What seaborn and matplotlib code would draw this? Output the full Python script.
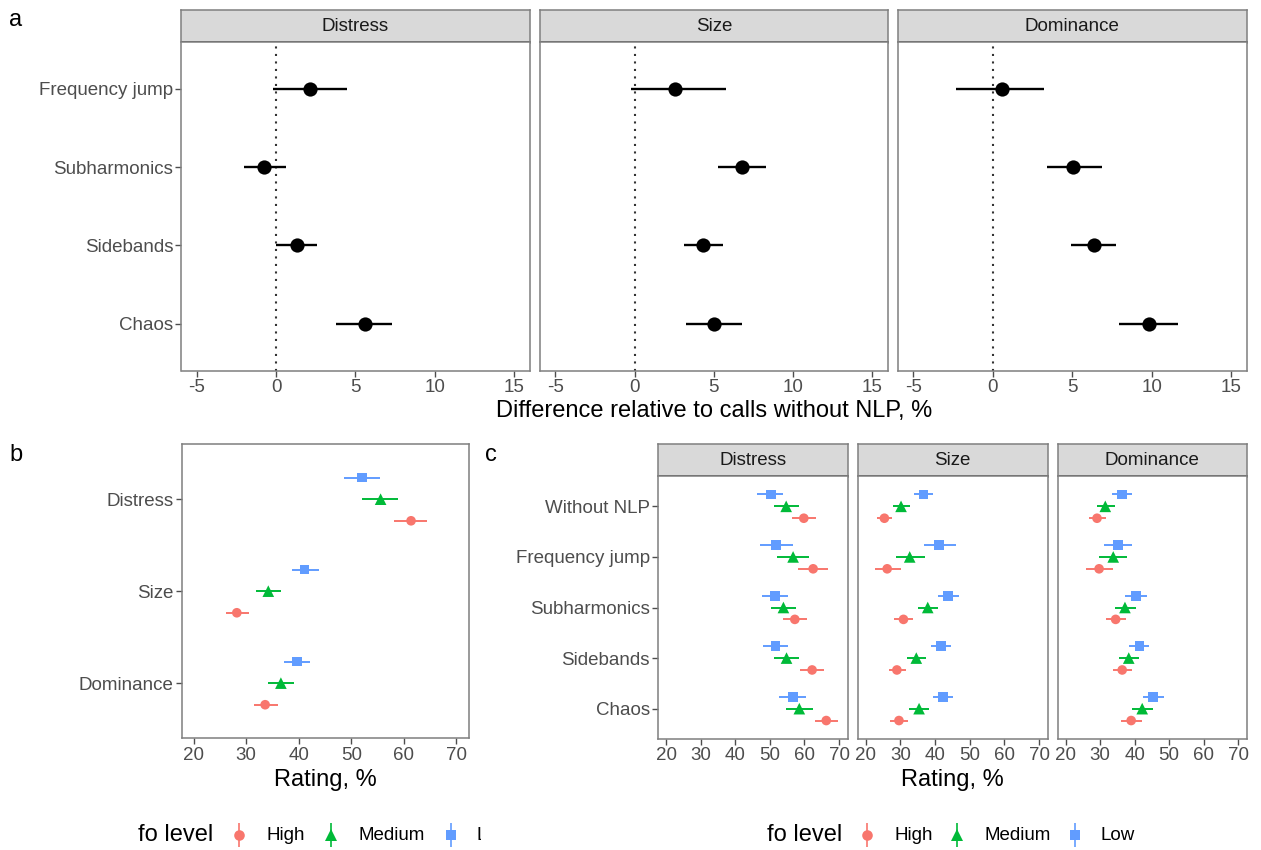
import numpy as np
import pandas as pd
import matplotlib
matplotlib.use("Agg")
import matplotlib.pyplot as plt
import seaborn as sns
from matplotlib.lines import Line2D
from matplotlib.transforms import Bbox, TransformedBbox

# ---------------- data ----------------
nlp_types = ["Frequency jump", "Subharmonics", "Sidebands", "Chaos"]
scales = ["Distress", "Size", "Dominance"]

# panel a: difference relative to calls without NLP, %
a_distress_est = [2.15, -0.74, 1.32, 5.58]
a_distress_lo = [-0.22, -2.06, 0.00, 3.80]
a_distress_hi = [4.45, 0.65, 2.60, 7.33]
a_size_est = [2.52, 6.75, 4.31, 4.99]
a_size_lo = [-0.25, 5.26, 3.09, 3.26]
a_size_hi = [5.74, 8.31, 5.60, 6.75]
a_dominance_est = [0.59, 5.04, 6.34, 9.83]
a_dominance_lo = [-2.31, 3.38, 4.94, 7.96]
a_dominance_hi = [3.19, 6.85, 7.75, 11.68]

fo_levels = ["High", "Medium", "Low"]

# panel b: rating by scale (Distress, Size, Dominance)
b_high_est = [61.4, 28.2, 33.6]
b_high_lo = [58.1, 26.2, 31.4]
b_high_hi = [64.5, 30.5, 36.1]
b_medium_est = [55.6, 34.2, 36.6]
b_medium_lo = [52.1, 31.8, 34.1]
b_medium_hi = [58.9, 36.7, 39.1]
b_low_est = [52.1, 41.1, 39.6]
b_low_lo = [48.6, 38.65, 37.1]
b_low_hi = [55.5, 43.9, 42.2]

# panel c: rating by NLP type
c_types = ["Without NLP", "Frequency jump", "Subharmonics", "Sidebands", "Chaos"]
c_distress_high_est = [59.8, 62.5, 57.2, 62.2, 66.3]
c_distress_high_lo = [56.3, 58.2, 53.7, 58.7, 63.0]
c_distress_high_hi = [63.2, 66.8, 60.8, 65.7, 69.7]
c_distress_medium_est = [54.7, 56.7, 53.9, 54.8, 58.5]
c_distress_medium_lo = [51.1, 52.1, 50.3, 51.3, 54.7]
c_distress_medium_hi = [58.3, 61.3, 57.5, 58.5, 62.4]
c_distress_low_est = [50.2, 51.8, 51.4, 51.6, 56.6]
c_distress_low_lo = [46.4, 47.0, 47.7, 47.9, 52.7]
c_distress_low_hi = [53.9, 56.6, 55.1, 55.2, 60.4]

c_size_high_est = [25.4, 26.2, 30.9, 29.0, 29.6]
c_size_high_lo = [23.3, 22.6, 28.3, 26.6, 27.1]
c_size_high_hi = [27.7, 30.1, 33.7, 31.5, 32.3]
c_size_medium_est = [30.2, 32.7, 37.9, 34.6, 35.4]
c_size_medium_lo = [28.0, 28.7, 35.0, 31.9, 32.6]
c_size_medium_hi = [32.8, 37.1, 40.9, 37.4, 38.2]
c_size_low_est = [36.7, 41.1, 43.8, 41.7, 42.3]
c_size_low_lo = [34.0, 36.9, 40.8, 38.8, 39.4]
c_size_low_hi = [39.4, 46.0, 47.0, 44.6, 45.3]

c_dominance_high_est = [29.1, 29.7, 34.5, 36.4, 39.0]
c_dominance_high_lo = [26.7, 25.9, 31.6, 33.7, 36.0]
c_dominance_high_hi = [31.7, 33.7, 37.5, 39.2, 42.0]
c_dominance_medium_est = [31.5, 33.8, 37.2, 38.3, 42.2]
c_dominance_medium_lo = [29.0, 29.6, 34.2, 35.5, 39.2]
c_dominance_medium_hi = [34.2, 37.9, 40.3, 41.2, 45.3]
c_dominance_low_est = [36.3, 35.1, 40.4, 41.4, 45.3]
c_dominance_low_lo = [33.5, 31.2, 37.3, 38.5, 42.3]
c_dominance_low_hi = [39.2, 39.2, 43.5, 44.3, 48.5]

a_ticks = [-5, 0, 5, 10, 15]
rating_ticks = [20, 30, 40, 50, 60, 70]

# ---------------- style ----------------
palette = {"High": "#F8766D", "Medium": "#00BA38", "Low": "#619CFF"}
markers = {"High": "o", "Medium": "^", "Low": "s"}
msizes = {"High": 48, "Medium": 70, "Low": 50}
dodge = {"High": 0.235, "Medium": 0.0, "Low": -0.235}

W, H = 1261, 850
sns.set_theme(style="white")
plt.rcParams["font.family"] = ["Liberation Sans", "DejaVu Sans"]
TICK = 13.5
TITLE = 17

fig = plt.figure(figsize=(W / 100, H / 100), dpi=100)
fig.patch.set_facecolor("white")


def rect(l, t, r, b):
    return [l / W, 1 - b / H, (r - l) / W, (b - t) / H]


def style_axes(ax):
    ax.set_facecolor("white")
    ax.grid(False)
    for s in ax.spines.values():
        s.set_visible(True)
        s.set_color("#7F7F7F")
        s.set_linewidth(1.1)
    ax.tick_params(axis="both", direction="out", length=4, width=1,
                   color="#4D4D4D", labelcolor="#4D4D4D", labelsize=TICK, pad=2,
                   bottom=True, left=True)
    ax.set_xlabel("")
    ax.set_ylabel("")


def strip(l, r, t, b, text):
    sax = fig.add_axes(rect(l, t, r, b))
    sax.set_facecolor("#D9D9D9")
    sax.set_xticks([])
    sax.set_yticks([])
    for s in sax.spines.values():
        s.set_visible(True)
        s.set_color("#7F7F7F")
        s.set_linewidth(1.1)
    sax.spines["bottom"].set_color("#4D4D4D")
    sax.spines["bottom"].set_linewidth(2)
    sax.spines["bottom"].set_capstyle("butt")
    sax.text(0.5, 0.47, text, ha="center", va="center", fontsize=TICK,
             color="#1A1A1A", transform=sax.transAxes)


# ---------------- panel a ----------------
a_data = {
    "Distress": (a_distress_est, a_distress_lo, a_distress_hi),
    "Size": (a_size_est, a_size_lo, a_size_hi),
    "Dominance": (a_dominance_est, a_dominance_lo, a_dominance_hi),
}
a_x = [(181.5, 529.6), (540, 888), (898, 1246.7)]
for k, sc in enumerate(scales):
    l, r = a_x[k]
    strip(l, r, 10, 42, sc)
    ax = fig.add_axes(rect(l, 42, r, 370.7))
    est, lo, hi = a_data[sc]
    df = pd.DataFrame({"type": nlp_types, "pos": np.arange(len(nlp_types)),
                       "est": est, "lo": lo, "hi": hi})
    ax.axvline(0, color="#333333", lw=1.5, ls=(0, (1, 2.6)), zorder=1)
    ax.hlines(df["pos"], df["lo"], df["hi"], color="black", lw=1.7, zorder=2)
    sns.scatterplot(data=df, x="est", y="pos", color="black", s=105,
                    linewidth=0, ax=ax, legend=False, zorder=3)
    style_axes(ax)
    ax.set_xlim(-5.97, 15.98)
    ax.set_ylim(len(nlp_types) - 1 + 0.6, -0.6)
    ax.set_xticks(a_ticks)
    ax.set_xticklabels([str(t) for t in a_ticks])
    ax.set_yticks(range(len(nlp_types)))
    if k == 0:
        ax.set_yticklabels(nlp_types)
    else:
        ax.set_yticklabels([])
        ax.tick_params(axis="y", length=0)

fig.text(714 / W, 1 - 411 / H, "Difference relative to calls without NLP, %",
         ha="center", va="center", fontsize=TITLE, color="black")


# ---------------- rating panels ----------------
def rating_panel(ax, cats, series, show_y):
    rows = []
    for lvl in fo_levels:
        est, lo, hi = series[lvl]
        for i, c in enumerate(cats):
            rows.append({"cat": c, "level": lvl, "pos": i + dodge[lvl],
                         "est": est[i], "lo": lo[i], "hi": hi[i]})
    df = pd.DataFrame(rows)
    ax.hlines(df["pos"], df["lo"], df["hi"],
              colors=[palette[v] for v in df["level"]], lw=1.4, zorder=2)
    sns.scatterplot(data=df, x="est", y="pos", hue="level", style="level",
                    size="level", hue_order=fo_levels, palette=palette,
                    markers=markers, sizes=msizes, linewidth=0, ax=ax,
                    legend=False, zorder=3)
    style_axes(ax)
    ax.set_xlim(17.7, 72.5)
    ax.set_ylim(len(cats) - 1 + 0.6, -0.6)
    ax.set_xticks(rating_ticks)
    ax.set_xticklabels([str(t) for t in rating_ticks])
    ax.set_yticks(range(len(cats)))
    if show_y:
        ax.set_yticklabels(cats)
    else:
        ax.set_yticklabels([])
        ax.tick_params(axis="y", length=0)


# panel b
axb = fig.add_axes(rect(181.7, 444, 469.3, 738.3))
rating_panel(axb, scales, {
    "High": (b_high_est, b_high_lo, b_high_hi),
    "Medium": (b_medium_est, b_medium_lo, b_medium_hi),
    "Low": (b_low_est, b_low_lo, b_low_hi),
}, True)
fig.text(325.5 / W, 1 - 780 / H, "Rating, %", ha="center", va="center",
         fontsize=TITLE, color="black")

# panel c
c_data = {
    "Distress": {
        "High": (c_distress_high_est, c_distress_high_lo, c_distress_high_hi),
        "Medium": (c_distress_medium_est, c_distress_medium_lo, c_distress_medium_hi),
        "Low": (c_distress_low_est, c_distress_low_lo, c_distress_low_hi),
    },
    "Size": {
        "High": (c_size_high_est, c_size_high_lo, c_size_high_hi),
        "Medium": (c_size_medium_est, c_size_medium_lo, c_size_medium_hi),
        "Low": (c_size_low_est, c_size_low_lo, c_size_low_hi),
    },
    "Dominance": {
        "High": (c_dominance_high_est, c_dominance_high_lo, c_dominance_high_hi),
        "Medium": (c_dominance_medium_est, c_dominance_medium_lo, c_dominance_medium_hi),
        "Low": (c_dominance_low_est, c_dominance_low_lo, c_dominance_low_hi),
    },
}
c_x = [(658.3, 847.7), (857.7, 1047.7), (1057.7, 1246.7)]
for k, sc in enumerate(scales):
    l, r = c_x[k]
    strip(l, r, 444, 476, sc)
    ax = fig.add_axes(rect(l, 476, r, 739))
    rating_panel(ax, c_types, c_data[sc], k == 0)
fig.text(952.5 / W, 1 - 780 / H, "Rating, %", ha="center", va="center",
         fontsize=TITLE, color="black")

# panel letters
fig.text(9 / W, 1 - 20 / H, "a", ha="left", va="center", fontsize=TITLE, color="black")
fig.text(9 / W, 1 - 455 / H, "b", ha="left", va="center", fontsize=TITLE, color="black")
fig.text(485 / W, 1 - 455 / H, "c", ha="left", va="center", fontsize=TITLE, color="black")


# ---------------- legends ----------------
def legend_row(title_x, keys_x, texts_x, y, clip_right=None):
    fig.text(title_x / W, 1 - y / H, "fo level", ha="left", va="center",
             fontsize=TITLE, color="black")
    for lvl, kx, tx in zip(fo_levels, keys_x, texts_x):
        fig.add_artist(Line2D([kx / W], [1 - y / H], transform=fig.transFigure,
                              marker="|", markersize=17, mew=1.2, lw=0,
                              color=palette[lvl]))
        fig.add_artist(Line2D([kx / W], [1 - y / H], transform=fig.transFigure,
                              marker=markers[lvl], lw=0, mew=0,
                              markersize=np.sqrt(msizes[lvl]) * 1.1,
                              color=palette[lvl]))
        t = fig.text(tx / W, 1 - y / H, lvl, ha="left", va="center",
                     fontsize=TICK, color="black")
        if clip_right is not None:
            t.set_clip_box(TransformedBbox(Bbox([[0, 0], [clip_right / W, 1]]),
                                           fig.transFigure))
            t.set_clip_on(True)


legend_row(138, [239, 331, 451], [266, 358, 476], 835, clip_right=481)
legend_row(767, [867, 957, 1075], [895, 985, 1100], 835)

fig.savefig("out.png", dpi=100, facecolor="white")
